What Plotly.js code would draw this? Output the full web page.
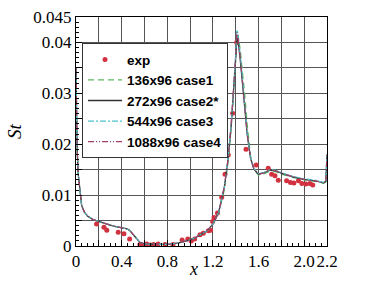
<!DOCTYPE html>
<html><head><meta charset="utf-8">
<script src="https://cdn.plot.ly/plotly-3.0.1.min.js"></script>
<style>html,body{margin:0;padding:0;background:#fff}#chart{width:390px;height:281px}</style>
</head><body><div id="chart"></div>
<script>
var expX = [0.18,0.245,0.27,0.37,0.42,0.47,0.56,0.6,0.62,0.65,0.68,0.72,0.78,0.85,0.93,0.98,1.01,1.04,1.087,1.116,1.16,1.18,1.198,1.21,1.24,1.277,1.306,1.335,1.373,1.408,1.49,1.58,1.685,1.715,1.744,1.773,1.846,1.88,1.91,1.95,1.98,2.015,2.05,2.075];
var expY = [0.0043,0.0037,0.0031,0.0027,0.0024,0.0014,0.0003,0.0002,0.0004,0.0002,0.0003,0.0004,0.0003,0.0003,0.0012,0.0014,0.0010,0.0014,0.0022,0.0025,0.0030,0.0031,0.0048,0.0056,0.0065,0.0096,0.0141,0.0179,0.0261,0.0400,0.0190,0.0159,0.0153,0.0141,0.0138,0.0129,0.0128,0.0125,0.0124,0.0128,0.0123,0.0122,0.0123,0.0120];

var xs = [0,0.005,0.01,0.02,0.03,0.05,0.075,0.1,0.15,0.2,0.25,0.3,0.35,0.4,0.44,0.47,0.5,0.53,0.56,0.6,0.7,0.8,0.9,0.95,1.0,1.05,1.1,1.15,1.2,1.25,1.3,1.33,1.36,1.38,1.4,1.41,1.42,1.44,1.46,1.48,1.5,1.53,1.56,1.6,1.65,1.7,1.75,1.8,1.9,2.0,2.1,2.17,2.19,2.2];
var case1 = [0.035,0.025,0.019,0.014,0.0115,0.0079,0.0066,0.0059,0.0052,0.0048,0.0044,0.0041,0.0038,0.0036,0.0034,0.0031,0.0024,0.0015,0.0007,0.0004,0.0003,0.0003,0.0006,0.0009,0.0012,0.0017,0.0023,0.0030,0.0042,0.0064,0.0110,0.0160,0.0230,0.0290,0.0365,0.0405,0.0415,0.0385,0.0345,0.0295,0.0240,0.0178,0.0150,0.0139,0.0142,0.0147,0.0146,0.0141,0.0135,0.0130,0.0127,0.0123,0.0126,0.0178];
var case2 = [0.035,0.025,0.019,0.014,0.0115,0.0079,0.0066,0.0059,0.0052,0.0048,0.0044,0.0041,0.0038,0.0036,0.0034,0.0031,0.0024,0.0015,0.0007,0.0004,0.0003,0.0003,0.0006,0.0009,0.0012,0.0017,0.0023,0.0030,0.0043,0.0066,0.0115,0.0165,0.0235,0.0295,0.0370,0.0410,0.0405,0.0365,0.0322,0.0270,0.0220,0.0172,0.0151,0.0141,0.0144,0.0149,0.0148,0.0143,0.0136,0.0131,0.0128,0.0124,0.0127,0.0180];
var case3 = [0.035,0.025,0.019,0.014,0.0115,0.0079,0.0066,0.0059,0.0052,0.0048,0.0044,0.0041,0.0038,0.0036,0.0034,0.0031,0.0024,0.0015,0.0007,0.0004,0.0003,0.0003,0.0006,0.0009,0.0012,0.0017,0.0023,0.0030,0.0043,0.0066,0.0116,0.0167,0.0240,0.0300,0.0380,0.0425,0.0418,0.0376,0.0330,0.0275,0.0222,0.0173,0.0152,0.0142,0.0145,0.0150,0.0149,0.0144,0.0137,0.0132,0.0129,0.0125,0.0128,0.0181];
var case4 = [0.035,0.025,0.019,0.014,0.0115,0.0079,0.0066,0.0059,0.0052,0.0048,0.0044,0.0041,0.0038,0.0036,0.0034,0.0031,0.0024,0.0015,0.0007,0.0004,0.0003,0.0003,0.0006,0.0009,0.0012,0.0017,0.0023,0.0030,0.0043,0.0066,0.0116,0.0166,0.0238,0.0298,0.0375,0.0420,0.0412,0.0370,0.0326,0.0272,0.0221,0.0172,0.0151,0.0141,0.0144,0.0149,0.0148,0.0143,0.0136,0.0131,0.0128,0.0124,0.0127,0.0180];

var yTickVals = [0,0.005,0.01,0.015,0.02,0.025,0.03,0.035,0.04,0.045];
var yTickText = ['0','','0.01','','0.02','','0.03','','0.04','0.045'];
var xTickVals = [0,0.2,0.4,0.6,0.8,1.0,1.2,1.4,1.6,1.8,2.0,2.2];
var xTickText = ['0','','0.4','','0.8','','1.2','','1.6','','2.0','2.2'];
var names = ['exp','136x96 case1','272x96 case2*','544x96 case3','1088x96 case4'];

var traces = [
  {x: expX, y: expY, name: names[0], mode: 'markers', type: 'scatter',
   marker: {color: '#d2313f', size: 5}},
  {x: xs, y: case1, name: names[1], mode: 'lines', type: 'scatter',
   line: {color: '#5cb85c', width: 1.2, dash: '6px,4px'}},
  {x: xs, y: case2, name: names[2], mode: 'lines', type: 'scatter',
   line: {color: '#333333', width: 1.3}},
  {x: xs, y: case3, name: names[3], mode: 'lines', type: 'scatter',
   line: {color: '#48c4cc', width: 1.2, dash: '6px,2px,2px,2px'}},
  {x: xs, y: case4, name: names[4], mode: 'lines', type: 'scatter',
   line: {color: '#a0406a', width: 1.2, dash: '6px,2px,1px,2px,1px,2px'}}
];
var serif = 'Liberation Serif, Times New Roman, serif';
var tickFont = {family: serif, size: 17, color: '#000'};
var layout = {
  width: 390, height: 281,
  margin: {l: 76, r: 63, t: 17, b: 35, pad: 0},
  paper_bgcolor: '#fff', plot_bgcolor: '#fff',
  showlegend: true,
  legend: {x: 0.024, y: 0.886, xanchor: 'left', yanchor: 'top',
    bgcolor: '#fff', bordercolor: '#333', borderwidth: 1,
    font: {family: 'Liberation Sans, Arial, sans-serif', size: 13.5, color: '#000', weight: 'bold'},
    tracegroupgap: 0, itemwidth: 34},
  xaxis: {range: [0, 2.2], tickmode: 'array', tickvals: xTickVals, ticktext: xTickText,
    tickangle: 0, automargin: false,
    ticks: 'inside', ticklen: 6, tickcolor: '#000', tickfont: tickFont,
    showgrid: true, gridcolor: '#555', gridwidth: 1, zeroline: false,
    showline: true, linecolor: '#000', linewidth: 1, mirror: true,
    minor: {dtick: 0.05, ticks: 'inside', ticklen: 3, tickcolor: '#000', showgrid: false}},
  yaxis: {range: [0, 0.045], tickmode: 'array', tickvals: yTickVals, ticktext: yTickText,
    automargin: false,
    ticks: 'inside', ticklen: 6, tickcolor: '#000', tickfont: tickFont,
    showgrid: true, gridcolor: '#555', gridwidth: 1, zeroline: false,
    showline: true, linecolor: '#000', linewidth: 1, mirror: true,
    minor: {dtick: 0.001, ticks: 'inside', ticklen: 3, tickcolor: '#000', showgrid: false},
    title: {text: '<i>St</i>', font: {family: serif, size: 19, color: '#000'}, standoff: 6}},
  annotations: [{text: '<i>x</i>', xref: 'paper', yref: 'paper', x: 0.47, y: 0,
    xanchor: 'center', yanchor: 'bottom', yshift: -34, showarrow: false, borderpad: 0,
    font: {family: serif, size: 18, color: '#000'}}]
};
Plotly.newPlot('chart', traces, layout, {staticPlot: true, displayModeBar: false});
</script>
</body></html>
